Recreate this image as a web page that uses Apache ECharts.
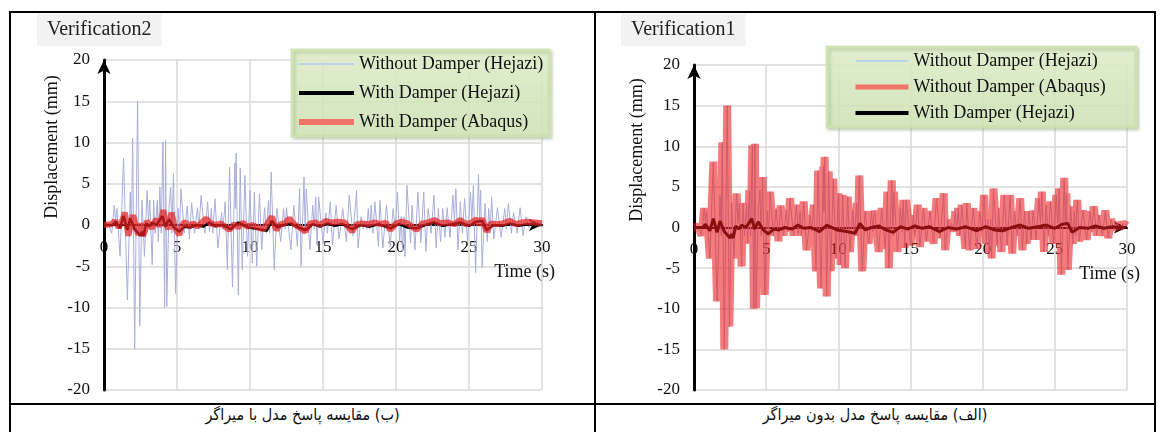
<!DOCTYPE html>
<html lang="en">
  <head>
    <meta charset="UTF-8" />
    <title>Verification</title>
    <script src="https://cdn.jsdelivr.net/npm/echarts@6/dist/echarts.min.js"></script>
    <style>
      body { margin: 0; background: #fff; }
      #wrap { position: relative; width: 1164px; height: 432px; overflow: hidden; background: #fff; }
      .ln { position: absolute; background: #000; }
      .cap { position: absolute; top: 405px; height: 26px; text-align: center; direction: rtl;
             font-family: 'DejaVu Sans Condensed', 'DejaVu Sans', sans-serif; font-size: 16px; color: #111; }
      #chart { position: absolute; left: 0; top: 0; width: 1164px; height: 432px; }
    </style>
  </head>
  <body>
    <div id="wrap">
      <!-- table lines -->
      <div class="ln" style="left:10px;top:11px;width:1146px;height:2px"></div>
      <div class="ln" style="left:10px;top:403px;width:1146px;height:2px"></div>
      <div class="ln" style="left:9px;top:11px;width:2px;height:421px"></div>
      <div class="ln" style="left:594px;top:11px;width:2px;height:421px"></div>
      <div class="ln" style="left:1154px;top:11px;width:2px;height:421px"></div>
      <div class="cap" style="left:10px;width:585px">(ب) مقایسه پاسخ مدل با میراگر</div>
      <div class="cap" style="left:595px;width:560px">(الف) مقایسه پاسخ مدل بدون میراگر</div>
      <div id="chart"></div>
    </div>
    <script>
      // [time (s), displacement (mm)]
      var noDamperHejazi = [
        [0, 0], [0.3, 0.1], [0.53, -1], [0.7, 2.4], [0.8, 0.5], [0.88, 2], [1.1, -3.8], [1.34, 8.1],
        [1.6, -9.1], [1.8, 4], [1.88, -1], [1.96, 10.5], [2.1, -15], [2.3, 15], [2.45, -12.2], [2.6, 3],
        [2.77, -3.8], [2.95, 4.2], [3.05, 0.5], [3.14, 3], [3.3, -4.8], [3.4, 3], [3.5, -1], [3.65, 3],
        [3.72, -2], [3.83, 4.6], [3.92, -1], [4.04, 10.1], [4.15, -10], [4.22, 10.3], [4.3, -9.9],
        [4.45, 2], [4.57, 4.6], [4.65, -1], [4.76, 6.2], [4.9, -8.3], [5.08, 2], [5.17, -1], [5.27, 4.4],
        [5.5, -1], [5.7, 2.3], [5.85, -1.7], [6.0, 2.7], [6.2, -1], [6.4, 2.1], [6.5, -0.5], [6.65, 3.6],
        [6.9, -1], [7.1, 2.8], [7.22, -0.8], [7.35, 2], [7.45, -1], [7.6, 3.2], [7.8, -2.8], [8.05, 1.5],
        [8.15, -0.5], [8.3, 2.8], [8.45, -5.4], [8.6, 7], [8.8, -7.5], [8.96, 7.5], [9.0, 2], [9.05, 8.7],
        [9.2, -8.5], [9.33, 6.9], [9.47, -5.4], [9.65, 6], [9.83, -3.8], [10.0, 4.2], [10.16, -4.6],
        [10.3, 4], [10.46, -5], [10.65, 3.8], [10.8, -3], [11.0, 2.1], [11.12, -1], [11.27, 3],
        [11.35, -1], [11.45, 6.4], [11.66, -5.4], [11.85, 2], [12.1, -2], [12.3, 2], [12.4, -0.5],
        [12.5, 2.1], [12.8, -3], [13.0, 2.4], [13.25, -2.6], [13.4, 4.4], [13.5, -5], [13.7, 5.8],
        [13.78, -1], [13.85, 4.4], [14.1, -3], [14.3, 2.4], [14.4, -0.5], [14.5, 3.4], [14.6, -2.5],
        [14.7, 3.4], [15.0, -2.2], [15.2, 1.5], [15.3, -1], [15.5, 2.8], [15.65, -2.4], [15.9, 2.4],
        [16.1, -1.7], [16.35, 2], [16.6, -2], [16.8, 3.6], [17.05, -1.3], [17.3, 4.2], [17.4, -2.8],
        [17.6, 1], [17.75, -0.5], [17.85, 0.5], [18.0, -0.5], [18.1, 2], [18.2, -0.5], [18.3, 2.4],
        [18.42, -1], [18.55, 2.8], [18.8, -2.6], [18.9, 3], [19.1, -2.8], [19.35, 2.4], [19.6, -2.6],
        [19.8, 2], [19.95, -0.5], [20.1, 4], [20.25, -2], [20.35, 1], [20.45, -3.2], [20.55, 1],
        [20.62, -3.8], [20.75, 4.8], [21.0, -2.2], [21.1, 2.4], [21.3, -3], [21.5, 4], [21.7, -2.2],
        [21.9, 4], [22.05, -3.2], [22.2, 2], [22.4, -1], [22.6, 3.6], [22.75, -2.8], [22.9, 2],
        [23.05, -2], [23.2, 2], [23.35, -1.5], [23.5, 2.1], [23.7, -1.5], [23.9, 3.6], [24.0, 0.5],
        [24.1, 4.4], [24.25, -3], [24.4, 2.8], [24.55, -1], [24.7, 3.2], [24.9, -2], [25.1, 4],
        [25.2, 0.5], [25.3, 4.8], [25.45, -5.8], [25.65, 6.1], [25.72, 0.5], [25.8, 4.2], [25.9, -5.2],
        [26.1, 2.6], [26.25, -2], [26.35, 2], [26.45, -1], [26.55, 3.4], [26.7, -1.7], [26.95, 2.1],
        [27.2, -1.5], [27.45, 2], [27.55, -0.5], [27.7, 2.6], [27.9, -1], [28.05, 1.5], [28.3, -1],
        [28.5, 2.1], [28.7, -1.3], [28.9, 1], [29.1, -0.3], [29.3, 0.5], [29.5, 0], [29.75, 0.5], [30, 0.2]
      ];
      // Abaqus without damper lies on top of the Hejazi curve
      var noDamperAbaqus = noDamperHejazi;

      var withDamperHejazi = [
        [0, 0], [0.6, 0], [0.8, 0.4], [1.1, -0.4], [1.34, 1.1], [1.6, -0.6], [1.8, 0.8], [2.1, -0.5],
        [2.5, -1.3], [2.6, -0.8], [2.7, -1.3], [2.9, 0.2], [3.1, -0.2], [3.3, 0.3], [3.6, 0], [4.0, 1.1],
        [4.2, -0.2], [4.45, 0.7], [4.8, -0.3], [5.15, -0.8], [5.5, -0.2], [5.9, -0.3], [6.3, 0],
        [6.8, -0.2], [7.2, 0.3], [7.6, -0.1], [8.1, 0], [8.7, -0.5], [9.2, 0.3], [9.9, -0.3],
        [10.6, -0.5], [11.15, -0.7], [11.5, 0.5], [11.85, -0.3], [12.3, 0], [12.8, 0.2], [13.3, -0.3],
        [13.8, -0.6], [14.3, 0.1], [14.8, -0.2], [15.3, 0.2], [15.8, -0.1], [16.3, 0.1], [17.0, -0.5],
        [17.6, 0], [18.2, -0.2], [18.8, 0.1], [19.6, -0.4], [20.2, 0.1], [20.8, -0.3], [21.4, -0.4],
        [22.0, 0], [22.6, 0.3], [23.2, -0.1], [23.8, 0.1], [24.4, 0.3], [25.0, -0.1], [25.5, 0.4],
        [25.9, 0.5], [26.2, -0.6], [26.7, 0], [27.3, -0.1], [27.8, 0.2], [28.4, -0.1], [29.0, 0.1],
        [29.5, 0], [30, 0]
      ];

      var withDamperAbaqus = [
        [0, 0], [0.5, 0.1], [0.75, 0.5], [1.0, -0.3], [1.2, 0.3], [1.44, 1.5], [1.67, -1.3], [1.85, 0.2],
        [2.0, 1.2], [2.2, -0.3], [2.35, -1.2], [2.5, 0.2], [2.65, -1.3], [2.8, -0.8], [2.92, 0.5],
        [3.1, 0], [3.27, -0.4], [3.45, 0.3], [3.6, 0.7], [3.8, -0.2], [4.06, 1.8], [4.25, 0.2],
        [4.4, -0.5], [4.63, 1.5], [4.85, -0.3], [5.16, -1.2], [5.35, 0], [5.55, 0.4], [5.8, -0.2],
        [6.1, 0.2], [6.4, -0.2], [6.7, 0.3], [7.0, 0.8], [7.3, 0.2], [7.7, 0], [8.0, 0.2], [8.3, -0.2],
        [8.6, -0.6], [8.9, 0.1], [9.2, -0.3], [9.5, 0.3], [9.8, -0.2], [10.2, 0], [10.5, -0.3],
        [10.9, -0.5], [11.2, 0.2], [11.5, 1], [11.8, -0.6], [12.1, 0.1], [12.4, 0.2], [12.7, 0.8],
        [13.0, 0.1], [13.4, -0.3], [13.8, -0.8], [14.1, 0.2], [14.5, 0.3], [14.8, 0], [15.2, 0.5],
        [15.6, 0.3], [16.0, 0.4], [16.5, 0.3], [17.0, -0.8], [17.3, 0.1], [17.7, 0.2], [18.1, 0.1],
        [18.5, 0.3], [19.0, 0.1], [19.3, 0.3], [19.6, -0.6], [20.0, 0.2], [20.4, 0.4], [20.8, 0.2],
        [21.4, -0.6], [21.8, 0.2], [22.2, 0.3], [22.65, 0.6], [23.0, 0.2], [23.5, 0.3], [24.0, 0.1],
        [24.4, 0.6], [24.8, 0.1], [25.2, 0.3], [25.5, 0.7], [25.7, 0], [25.9, 0.8], [26.2, -0.8],
        [26.5, 0.2], [26.9, 0.1], [27.3, 0.2], [27.8, 0.5], [28.2, 0.1], [28.6, 0.3], [29.0, 0.4],
        [29.5, 0.3], [30, 0.2]
      ];

      var legendLeft = ['Without Damper (Hejazi)', 'With Damper (Hejazi)', 'With Damper (Abaqus)'];
      var legendRight = ['Without Damper (Hejazi)', 'Without Damper (Abaqus)', 'With Damper (Hejazi)'];

      var serif = '"Liberation Serif", "Times New Roman", serif';
      var gridColor = '#D9D9D9';
      var lbl = { fontFamily: serif, fontSize: 17, color: '#111', margin: 14 };

      // swatch look in the legend boxes
      var swatch = {
        'Without Damper (Hejazi)': { color: '#BCD3EE', width: 2 },
        'With Damper (Hejazi)': { color: '#000000', width: 4 },
        'With Damper (Abaqus)': { color: '#F07468', width: 6 },
        'Without Damper (Abaqus)': { color: '#F07468', width: 5 }
      };

      // x axis used by the series: grid lines only
      function xGrid(gi) {
        return {
          type: 'value', gridIndex: gi, min: 0, max: 30, interval: 5,
          axisLine: { show: false }, axisTick: { show: false }, axisLabel: { show: false },
          splitLine: { show: true, lineStyle: { color: gridColor, width: 1.5 } }
        };
      }
      // x axis drawn through y = 0 (moved up from the bottom of the grid)
      function xZero(gi, off) {
        return {
          type: 'value', gridIndex: gi, min: 0, max: 30, interval: 5, position: 'bottom', offset: off,
          name: 'Time (s)', nameLocation: 'end', nameGap: 13,
          nameTextStyle: { fontFamily: serif, fontSize: 18, color: '#111', align: 'right', verticalAlign: 'top', padding: [38, 0, 0, 0] },
          axisLine: { show: true, onZero: false, symbol: ['none', 'arrow'], symbolSize: [9, 13], lineStyle: { color: '#000', width: 2 } },
          axisTick: { show: false },
          axisLabel: lbl,
          splitLine: { show: false }
        };
      }
      function yAx(gi) {
        return {
          type: 'value', gridIndex: gi, min: -20, max: 20, interval: 5,
          axisLine: { show: true, onZero: false, symbol: ['none', 'arrow'], symbolSize: [10, 14], lineStyle: { color: '#000', width: 3 } },
          axisTick: { show: false },
          axisLabel: lbl,
          splitLine: { show: true, lineStyle: { color: gridColor, width: 1.5 } }
        };
      }
      function legendBg() {
        return {
          type: 'linear', x: 0, y: 0, x2: 0, y2: 1,
          colorStops: [
            { offset: 0, color: 'rgba(228,242,208,0.85)' },
            { offset: 0.5, color: 'rgba(218,236,194,0.8)' },
            { offset: 1, color: 'rgba(212,232,186,0.85)' }
          ]
        };
      }
      function line(name, gi, data, color, width, opacity, z) {
        return {
          name: name, type: 'line', xAxisIndex: gi, yAxisIndex: gi, data: data,
          showSymbol: false, symbol: 'none', z: z,
          lineStyle: { color: color, width: width, opacity: opacity },
          itemStyle: { color: color }
        };
      }
      function legendCommon(names, o) {
        o.data = names.map(function (n) {
          return { name: n, lineStyle: { color: swatch[n].color, width: swatch[n].width, opacity: 1 } };
        });
        o.orient = 'vertical';
        o.itemHeight = 14;
        o.itemTextGap = 4;
        o.backgroundColor = legendBg();
        o.borderColor = 'rgba(205,226,176,0.9)';
        o.borderWidth = 3;
        o.shadowColor = 'rgba(110,130,80,0.35)';
        o.shadowBlur = 3;
        o.shadowOffsetX = 2;
        o.shadowOffsetY = 2;
        o.itemStyle = { opacity: 0 };
        o.textStyle = { fontFamily: serif, fontSize: 18, lineHeight: 18, color: '#111' };
        return o;
      }

      var mChart = echarts.init(document.getElementById('chart'));
      var option = {
        animation: false,
        title: [
          { text: 'Verification2', left: 37, top: 14, backgroundColor: '#F2F2F2', padding: [6, 10, 6, 10],
            textStyle: { fontFamily: serif, fontSize: 20, fontWeight: 'normal', color: '#222' } },
          { text: 'Verification1', left: 621, top: 14, backgroundColor: '#F2F2F2', padding: [6, 10, 6, 10],
            textStyle: { fontFamily: serif, fontSize: 20, fontWeight: 'normal', color: '#222' } }
        ],
        grid: [
          { left: 104, top: 60, width: 438, height: 330, containLabel: false },
          { left: 694, top: 65, width: 433, height: 325, containLabel: false }
        ],
        legend: [
          legendCommon(legendLeft, { left: 292, top: 50, itemWidth: 55, itemGap: 11, padding: [5, 6, 5, 4] }),
          legendCommon(legendRight, { left: 827, top: 47, itemWidth: 53, itemGap: 8, padding: [5, 30, 5, 26] })
        ],
        xAxis: [xGrid(0), xGrid(1), xZero(0, -165), xZero(1, -162.5)],
        yAxis: [yAx(0), yAx(1)],
        graphic: [
          { type: 'text', x: 52, y: 147, rotation: Math.PI / 2,
            style: { text: 'Displacement (mm)', font: '18px ' + serif, fill: '#111', align: 'center', verticalAlign: 'middle', textAlign: 'center', textVerticalAlign: 'middle' } },
          { type: 'text', x: 637, y: 150, rotation: Math.PI / 2,
            style: { text: 'Displacement (mm)', font: '18px ' + serif, fill: '#111', align: 'center', verticalAlign: 'middle', textAlign: 'center', textVerticalAlign: 'middle' } }
        ],
        series: [
          // Verification2 (left)
          line('Without Damper (Hejazi)', 0, noDamperHejazi, '#A9AEDA', 1, 1, 2),
          line('With Damper (Hejazi)', 0, withDamperHejazi, '#000000', 2.5, 1, 3),
          line('With Damper (Abaqus)', 0, withDamperAbaqus, '#E82020', 6, 0.72, 4),
          // Verification1 (right)
          line('Without Damper (Hejazi)', 1, noDamperHejazi, '#A9AEDA', 1, 1, 2),
          line('With Damper (Hejazi)', 1, withDamperHejazi, '#000000', 3, 1, 3),
          line('Without Damper (Abaqus)', 1, noDamperAbaqus, '#EC1C1C', 8, 0.58, 4)
        ]
      };
      mChart.setOption(option);
    </script>
  </body>
</html>
